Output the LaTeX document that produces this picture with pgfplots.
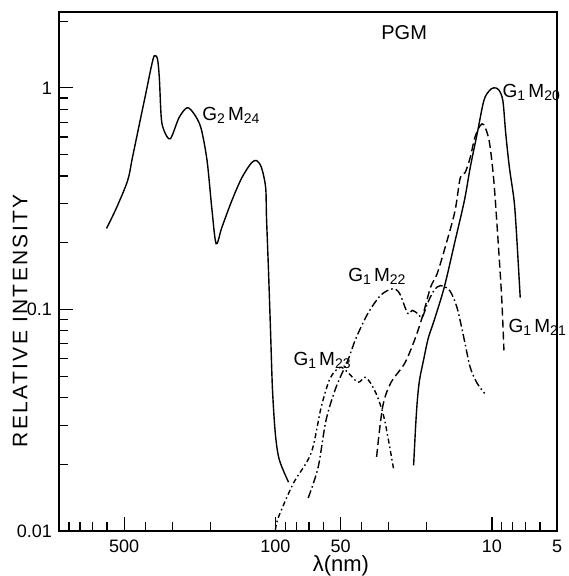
\documentclass[border=0pt]{standalone}
\usepackage{pgfplots}
\pgfplotsset{compat=1.18}
\usepackage{fontspec}
\setmainfont{Liberation Sans}

\newcommand{\sub}[1]{\raisebox{-0.3ex}{\fontsize{7}{7}\selectfont #1}}
\newcommand{\lab}[3]{G\sub{#1}\,M\sub{#2#3}}

\begin{document}
\begin{tikzpicture}
\begin{axis}[
    scale only axis,
    width=249pt, height=259.5pt,
    xmode=log, ymode=log,
    x dir=reverse,
    xmin=5, xmax=1000,
    ymin=0.01, ymax=2.2,
    xtick={5,10,50,100,500},
    xticklabels={5,10,50,100,500},
    minor xtick={6,7,8,9,20,30,40,60,70,80,90,200,300,400,600,700,800,900},
    ytick={0.01,0.1,1},
    yticklabels={0.01,0.1,1},
    minor ytick={0.02,0.03,0.04,0.05,0.06,0.07,0.08,0.09,0.2,0.3,0.4,0.5,0.6,0.7,0.8,0.9,2},
    tick align=inside,
    tick pos=left,
    major tick length=7pt, minor tick length=4.5pt,
    tick style={black, line width=0.6pt},
    axis line style={line width=0.7pt},
    ticklabel style={font=\fontsize{9}{10}\selectfont},
    xticklabel style={yshift=-0.8pt},
    ylabel={RELATIVE INTENSITY},
    ylabel style={at={(axis description cs:-0.078,0.405)}, anchor=center, inner sep=0pt,
        font=\fontsize{10.5}{12}\selectfont\addfontfeature{LetterSpace=11}},
    xlabel={λ(nm)},
    xlabel style={at={(axis description cs:0.566,-0.0867)}, anchor=south, inner sep=0pt,
        font=\fontsize{11}{12}\selectfont},
    clip=false,
]
% G2 M24
\addplot[black, line width=0.7pt, smooth, no markers] coordinates {
(603,0.232) (542,0.288) (482,0.381) (458,0.484) (425,0.688) (395,0.969)
(374,1.256) (363,1.393) (351,1.351) (344,1.109) (337,0.733) (327,0.640)
(306,0.589) (279,0.733) (256,0.813) (238,0.764) (221,0.660) (207,0.469)
(197,0.288) (188,0.198) (177,0.234) (159,0.310) (143,0.393) (129,0.459)
(122,0.469) (116,0.436) (111,0.355) (110,0.260) (107.7,0.150) (105.4,0.0804)
(103.2,0.0433) (100,0.0271) (95.9,0.0209) (87,0.0166)
};
% G1 M20
\addplot[black, line width=0.7pt, smooth, no markers] coordinates {
(23.0,0.0198) (22.5,0.030) (22.1,0.039) (21.6,0.048) (20.7,0.059) (19.7,0.074)
(18.5,0.089) (16.6,0.126) (14.9,0.198) (13.4,0.310) (12.6,0.436) (11.7,0.621)
(10.9,0.874) (10.3,0.969) (9.8,1.0) (9.3,0.98) (8.9,0.874) (8.63,0.62)
(8.3,0.436) (7.9,0.310) (7.7,0.220) (7.4,0.113)
};
% G1 M21
\addplot[black, line width=0.7pt, smooth, no markers, dash pattern=on 4pt off 2pt] coordinates {
(34.1,0.0216) (32.0,0.0362) (29.4,0.0464) (25.3,0.0571) (22.8,0.0725)
(21.0,0.092) (19.2,0.126) (17.9,0.145) (16.1,0.205) (14.8,0.279) (14.0,0.393)
(13.3,0.414) (12.6,0.484) (12.0,0.595) (11.35,0.674) (10.9,0.681) (10.3,0.577)
(9.8,0.381) (9.3,0.184) (9.0,0.110) (8.8,0.0654)
};
% G1 M22
\addplot[black, line width=0.7pt, smooth, no markers, dash pattern=on 4pt off 1.5pt on 0.8pt off 1.5pt] coordinates {
(70.6,0.0141) (63.5,0.0194) (58.4,0.0316) (52.5,0.0445) (46.3,0.0589)
(42.5,0.074) (37.4,0.096) (32.6,0.116) (28.7,0.124) (26.7,0.118) (24.5,0.096)
(23.3,0.099) (22.1,0.096) (21.0,0.092) (19.9,0.106) (18.5,0.122) (17.3,0.128)
(15.7,0.122) (14.5,0.102) (13.4,0.0725) (12.6,0.0548) (11.7,0.0464) (10.8,0.0418)
};
% G1 M23
\addplot[black, line width=0.7pt, smooth, no markers, dash pattern=on 2.5pt off 1.5pt on 0.8pt off 1.5pt] coordinates {
(100,0.0101) (97,0.0115) (82.7,0.0164) (68.4,0.0225) (61.5,0.0362) (55.9,0.0489)
(50.3,0.0548) (46.3,0.052) (41.6,0.0469) (38.6,0.0494) (36.3,0.0464)
(33.7,0.0401) (31.3,0.0316) (28.5,0.0192)
};
\node[font=\fontsize{10}{11}\selectfont] at (axis description cs:0.693,0.961) {PGM};
\node[anchor=west, inner sep=0pt, font=\fontsize{9.5}{10}\selectfont] at (axis description cs:0.287,0.800) {\lab{2}{2}{4}};
\node[anchor=west, inner sep=0pt, font=\fontsize{9.5}{10}\selectfont] at (axis description cs:0.890,0.844) {\lab{1}{2}{0}};
\node[anchor=west, inner sep=0pt, font=\fontsize{9.5}{10}\selectfont] at (axis description cs:0.580,0.491) {\lab{1}{2}{2}};
\node[anchor=west, inner sep=0pt, font=\fontsize{9.5}{10}\selectfont] at (axis description cs:0.470,0.329) {\lab{1}{2}{3}};
\node[anchor=west, inner sep=0pt, font=\fontsize{9.5}{10}\selectfont] at (axis description cs:0.902,0.393) {\lab{1}{2}{1}};
\path (axis description cs:-0.1185,-0.0867) rectangle (axis description cs:1.016,1.023);
\end{axis}
\end{tikzpicture}
\end{document}
